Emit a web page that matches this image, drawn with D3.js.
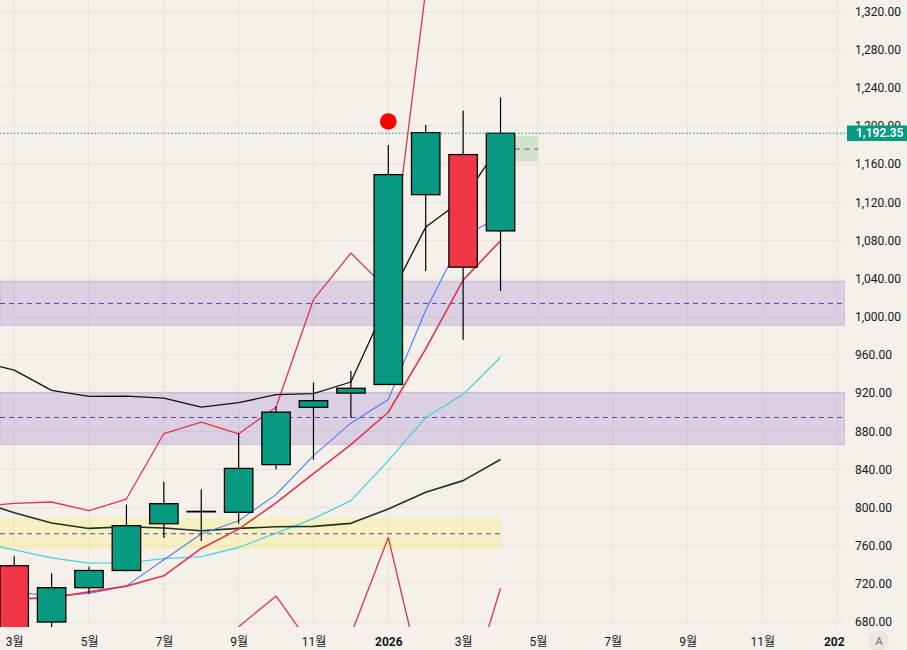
<!DOCTYPE html>
<html>
<head>
<meta charset="utf-8">
<script src="https://cdn.jsdelivr.net/npm/d3@7"></script>
<style>
  html, body { margin: 0; padding: 0; background: #f5f1ea; }
  svg { display: block; font-family: Roboto, 'Noto Sans CJK KR', sans-serif; }
</style>
</head>
<body>
<div id="chart"></div>
<script>
// months on the time axis (one bar per month)
const months = ['2025-02', '2025-03', '2025-04', '2025-05', '2025-06', '2025-07', '2025-08', '2025-09', '2025-10', '2025-11', '2025-12',
  '2026-01', '2026-02', '2026-03', '2026-04', '2026-05', '2026-06', '2026-07', '2026-08', '2026-09', '2026-10', '2026-11', '2026-12', '2027-01'];

const tickMonths = ['2025-03', '2025-05', '2025-07', '2025-09', '2025-11', '2026-01', '2026-03', '2026-05', '2026-07', '2026-09', '2026-11', '2027-01'];
const tickLabels = ['3월', '5월', '7월', '9월', '11월', '2026', '3월', '5월', '7월', '9월', '11월', '2027'];
const priceTicks = [680, 720, 760, 800, 840, 880, 920, 960, 1000, 1040, 1080, 1120, 1160, 1200, 1240, 1280, 1320];

// monthly candles
const candleMonths = ['2025-03', '2025-04', '2025-05', '2025-06', '2025-07', '2025-08', '2025-09', '2025-10', '2025-11', '2025-12', '2026-01', '2026-02', '2026-03', '2026-04'];
const opens  = [739, 680, 716, 734, 783, 796, 795, 845, 905, 920, 929, 1128, 1170, 1090];
const highs  = [749, 731, 738, 803, 827, 819, 878, 906, 931, 943, 1180, 1201, 1216, 1230];
const lows   = [650, 668, 710, 733, 768, 765, 783, 840, 850, 894, 929, 1048, 976, 1027];
const closes = [668, 716, 734, 781, 804, 796, 841, 900, 912, 925, 1149, 1193, 1052, 1192.35];

// indicator lines
const maMonths = ['2025-02', '2025-03', '2025-04', '2025-05', '2025-06', '2025-07', '2025-08', '2025-09', '2025-10', '2025-11', '2025-12', '2026-01', '2026-02', '2026-03', '2026-04'];
const blackLine = [954, 944, 922.8, 916.5, 916.8, 914.7, 905.2, 909.9, 918.3, 919.4, 931.6, 1017.4, 1094, 1123, 1181];
const darkLine  = [807.2, 794.6, 783.8, 778.1, 779.9, 778.5, 775.6, 778.1, 779.9, 780.2, 783.4, 798.5, 816, 828.2, 850.3];
const cyanLine  = [764.1, 755.7, 747.3, 741.7, 742, 746.5, 748.6, 758.1, 773.2, 788.3, 807.2, 849.2, 894.4, 918.6, 957.5];
const upperRed  = [800.9, 804.4, 805.8, 796.7, 808.9, 877.6, 889.5, 877.3, 905.2, 1018, 1066.7, 1027.9, 1342, 1480, 1460];
const shortMonths = ['2025-03', '2025-04', '2025-05', '2025-06', '2025-07', '2025-08', '2025-09', '2025-10', '2025-11', '2025-12', '2026-01', '2026-02', '2026-03', '2026-04'];
const blueLine  = [711.6, 707.3, 709.8, 717.9, 745.2, 772.2, 786.2, 813.5, 854.5, 888.4, 913.3, 1006.8, 1083.6, 1105.6];
const redLine   = [704.2, 705.3, 711.6, 717.6, 728.4, 757.1, 777.4, 804.8, 835.6, 866.0, 899.9, 966.3, 1038.4, 1079.7];
const lowerMonths = ['2025-09', '2025-10', '2025-11', '2025-12', '2026-01', '2026-02', '2026-03', '2026-04'];
const lowerRed  = [675, 707.3, 651.7, 666.7, 768.6, 603, 586.8, 715.4];

// zones: [top, mid, bottom]
const zoneTops = [1037.3, 920.7, 788.3];
const zoneMids = [1014, 894.4, 772.5];
const zoneBottoms = [991, 866, 757];
const zoneEnds = ['2027-01', '2027-01', '2026-04'];

const lastPrice = 1192.35;
const signalMonth = '2026-01';
const signalValue = 1204.7;
const projection = {top: 1189.7, mid: 1175.7, bottom: 1162.7};

const width = 907;
const height = 650;
const plotW = 845;
const plotH = 627;

const svg = d3.select('#chart')
  .append('svg')
    .attr('viewBox', [0, 0, width, height])
    .attr('width', width)
    .attr('height', height);

svg.append('rect')
    .attr('width', width)
    .attr('height', height)
    .attr('fill', '#f5f1ea');

const defs = svg.append('defs');
defs.append('clipPath').attr('id', 'plot-clip')
  .append('rect').attr('width', plotW).attr('height', plotH);
defs.append('clipPath').attr('id', 'xaxis-clip')
  .append('rect').attr('width', plotW).attr('height', height);

const x = d3.scalePoint()
  .domain(months)
  .range([-23.2, 837.2]);
const step = x.step();
const barW = step * 0.76;

const y = d3.scaleLinear()
  .domain([680, 1320])
  .range([622, 11.5]);

const plot = svg.append('g').attr('clip-path', 'url(#plot-clip)');

// grid
plot.append('g')
  .selectAll('line')
  .data(tickMonths)
  .join('line')
    .attr('x1', d => x(d)).attr('x2', d => x(d))
    .attr('y1', 0).attr('y2', plotH)
    .attr('stroke', '#e7e3db');
plot.append('g')
  .selectAll('line')
  .data(priceTicks)
  .join('line')
    .attr('x1', 0).attr('x2', plotW)
    .attr('y1', d => y(d)).attr('y2', d => y(d))
    .attr('stroke', '#e7e3db');

// zones
const zones = zoneTops.map((t, i) => ({top: t, mid: zoneMids[i], bottom: zoneBottoms[i], end: zoneEnds[i]}));
const zoneColors = ['#9575cd', '#9575cd', '#ffeb3b'];
plot.append('g')
  .selectAll('rect')
  .data(zones)
  .join('rect')
    .attr('x', 0)
    .attr('y', d => y(d.top))
    .attr('width', d => d.end === '2027-01' ? plotW : x(d.end))
    .attr('height', d => y(d.bottom) - y(d.top))
    .attr('fill', (d, i) => zoneColors[i])
    .attr('fill-opacity', (d, i) => i === 2 ? 0.22 : 0.27)
    .attr('stroke', (d, i) => zoneColors[i])
    .attr('stroke-opacity', (d, i) => i === 2 ? 0.25 : 0.3);
plot.append('g')
  .selectAll('line')
  .data(zones)
  .join('line')
    .attr('x1', 0)
    .attr('x2', d => d.end === '2027-01' ? plotW : x(d.end))
    .attr('y1', d => y(d.mid)).attr('y2', d => y(d.mid))
    .attr('stroke', '#5e40b4')
    .attr('stroke-width', 1)
    .attr('stroke-dasharray', '5 4');

// projection box after the last bar
plot.append('rect')
    .attr('x', x('2026-04') + barW / 2)
    .attr('y', y(projection.top))
    .attr('width', x('2026-05') - x('2026-04') - barW / 2)
    .attr('height', y(projection.bottom) - y(projection.top))
    .attr('fill', '#4caf50')
    .attr('fill-opacity', 0.2);
plot.append('line')
    .attr('x1', x('2026-04') + barW / 2)
    .attr('x2', x('2026-05'))
    .attr('y1', y(projection.mid)).attr('y2', y(projection.mid))
    .attr('stroke', '#5e40b4')
    .attr('stroke-dasharray', '5 5');

// lines
const line = d3.line()
  .x(d => x(d[0]))
  .y(d => y(d[1]));
const zipLine = (ms, vs) => ms.map((m, i) => [m, vs[i]]);

const series = [
  {data: zipLine(maMonths, cyanLine), color: '#4fcfe0', w: 1.3},
  {data: zipLine(maMonths, darkLine), color: '#1c3327', w: 1.6},
  {data: zipLine(maMonths, upperRed), color: '#e0344f', w: 1.3},
  {data: zipLine(lowerMonths, lowerRed), color: '#e0344f', w: 1.3},
  {data: zipLine(shortMonths, blueLine), color: '#4c7dff', w: 1.1},
  {data: zipLine(shortMonths, redLine), color: '#e0344f', w: 1.6},
  {data: zipLine(maMonths, blackLine), color: '#111111', w: 1.3}
];
plot.append('g')
  .selectAll('path')
  .data(series)
  .join('path')
    .attr('d', d => line(d.data))
    .attr('fill', 'none')
    .attr('stroke', d => d.color)
    .attr('stroke-width', d => d.w)
    .attr('stroke-linejoin', 'round');

// candles
const candles = candleMonths.map((m, i) => ({month: m, open: opens[i], high: highs[i], low: lows[i], close: closes[i]}));
const candleG = plot.append('g')
  .selectAll('g')
  .data(candles)
  .join('g');
candleG.append('line')
    .attr('x1', d => x(d.month)).attr('x2', d => x(d.month))
    .attr('y1', d => y(d.high)).attr('y2', d => y(d.low))
    .attr('stroke', '#000')
    .attr('stroke-width', 1.2);
candleG.append('rect')
    .attr('x', d => x(d.month) - barW / 2)
    .attr('y', d => y(Math.max(d.open, d.close)))
    .attr('width', barW)
    .attr('height', d => Math.max(0.5, Math.abs(y(d.open) - y(d.close))))
    .attr('fill', d => d.close >= d.open ? '#089981' : '#f23645')
    .attr('stroke', '#000')
    .attr('stroke-width', 1.3);

// last price line
plot.append('line')
    .attr('x1', 0).attr('x2', plotW)
    .attr('y1', y(lastPrice)).attr('y2', y(lastPrice))
    .attr('stroke', '#089981')
    .attr('stroke-width', 1)
    .attr('stroke-dasharray', '1.5 2');

// signal dot
plot.append('circle')
    .attr('cx', x(signalMonth))
    .attr('cy', y(signalValue))
    .attr('r', 8.3)
    .attr('fill', '#ff0000');

// price axis
const yAxis = svg.append('g')
    .attr('transform', `translate(${plotW}, 0)`)
    .call(d3.axisRight(y).tickValues(priceTicks).tickFormat(d3.format(',.2f')).tickSize(0).tickPadding(10));
yAxis.select('.domain').remove();
yAxis.selectAll('text')
    .attr('font-size', 12)
    .attr('font-family', "Roboto, 'Noto Sans CJK KR', sans-serif")
    .attr('fill', '#131722');

// last price label
svg.append('rect')
    .attr('x', 847)
    .attr('y', y(lastPrice) - 7.8)
    .attr('width', width - 847)
    .attr('height', 15.6)
    .attr('fill', '#089981');
svg.append('text')
    .attr('x', 856)
    .attr('y', y(lastPrice))
    .attr('dy', '0.35em')
    .attr('font-size', 12)
    .attr('font-weight', 600)
    .attr('fill', '#fff')
    .text(d3.format(',.2f')(lastPrice));

// time axis
const labelOf = d3.scaleOrdinal().domain(tickMonths).range(tickLabels);
const xAxis = svg.append('g')
    .attr('clip-path', 'url(#xaxis-clip)')
  .append('g')
    .attr('transform', `translate(0, ${plotH})`)
    .call(d3.axisBottom(x).tickValues(tickMonths).tickFormat(d => labelOf(d)).tickSize(0).tickPadding(10));
xAxis.select('.domain').remove();
xAxis.selectAll('text')
    .attr('font-size', 12)
    .attr('font-family', "Roboto, 'Noto Sans CJK KR', sans-serif")
    .attr('fill', '#131722')
    .attr('font-weight', d => labelOf(d).length === 4 ? 700 : 400);

// auto-scale button
svg.append('circle')
    .attr('cx', 879)
    .attr('cy', 641)
    .attr('r', 10.5)
    .attr('fill', '#ebe7df');
svg.append('text')
    .attr('x', 879)
    .attr('y', 641)
    .attr('dy', '0.35em')
    .attr('text-anchor', 'middle')
    .attr('font-size', 11)
    .attr('fill', '#6a6d78')
    .text('A');
</script>
</body>
</html>
